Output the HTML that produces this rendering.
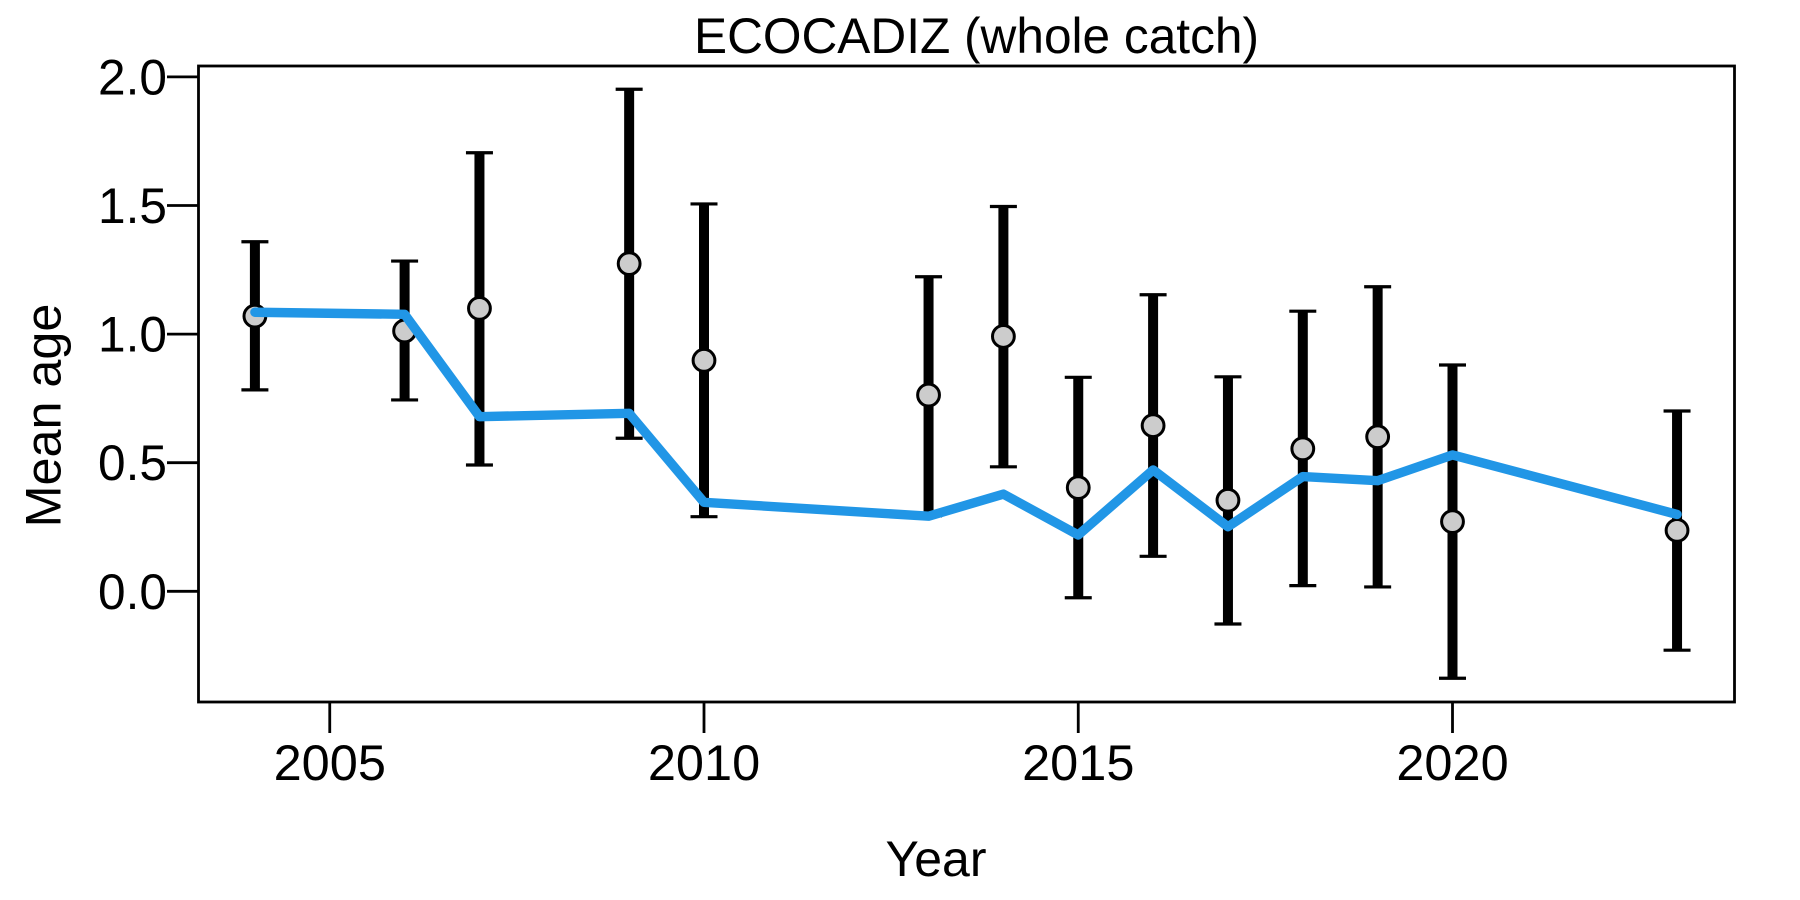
<!DOCTYPE html>
<html lang="en">
<head>
<meta charset="utf-8">
<title>ECOCADIZ (whole catch)</title>
<style>
html,body{margin:0;padding:0;background:#fff;}
svg{display:block;}
text{font-family:"Liberation Sans",Arial,sans-serif;fill:#000;}
</style>
</head>
<body>
<svg id="chart" xmlns="http://www.w3.org/2000/svg" width="1800" height="900" viewBox="0 0 1800 900">
<rect x="0" y="0" width="1800" height="900" fill="#fff"/>
<text x="976.5" y="53" font-size="49.6" text-anchor="middle">ECOCADIZ (whole catch)</text>
<text x="936" y="876" font-size="50" text-anchor="middle">Year</text>
<text x="60.5" y="415.5" font-size="50.3" text-anchor="middle" transform="rotate(-90 60.5 415.5)">Mean age</text>
<g id="error-bars"></g>
<g id="points"></g>
<g id="fit"></g>
<g id="axes"></g>
<rect x="198.5" y="66" width="1536" height="636" fill="none" stroke="#000" stroke-width="2.8"/>
</svg>
<script>
const years = [2004, 2006, 2007, 2009, 2010, 2013, 2014, 2015, 2016, 2017, 2018, 2019, 2020, 2023];
const observed = [1.070, 1.012, 1.100, 1.274, 0.898, 0.763, 0.991, 0.403, 0.644, 0.354, 0.554, 0.601, 0.271, 0.237];
const upper = [1.359, 1.284, 1.705, 1.952, 1.506, 1.223, 1.496, 0.832, 1.153, 0.834, 1.089, 1.184, 0.880, 0.701];
const lower = [0.783, 0.744, 0.491, 0.595, 0.290, 0.293, 0.484, -0.025, 0.136, -0.127, 0.022, 0.017, -0.338, -0.229];
const fitted = [1.085, 1.077, 0.679, 0.692, 0.346, 0.292, 0.378, 0.219, 0.472, 0.251, 0.446, 0.430, 0.530, 0.299];
const xTicks = [2005, 2010, 2015, 2020];
const yTicks = [0, 0.5, 1, 1.5, 2];
const yTickLabels = ['0.0', '0.5', '1.0', '1.5', '2.0'];

const NS = 'http://www.w3.org/2000/svg';
function xScale(year) { return 254.9 + (year - 2004) * 74.85; }
function yScale(value) { return 591.3 - value * 257.2; }
function make(tag, attrs, parent) {
  const el = document.createElementNS(NS, tag);
  for (const k in attrs) el.setAttribute(k, attrs[k]);
  parent.appendChild(el);
  return el;
}

const barsGroup = document.getElementById('error-bars');
const pointsGroup = document.getElementById('points');
const fitGroup = document.getElementById('fit');
const axesGroup = document.getElementById('axes');

years.forEach(function (year, i) {
  const x = xScale(year);
  const yHi = yScale(upper[i]);
  const yLo = yScale(lower[i]);
  const bar = make('line', {x1: x, x2: x, y1: yHi, y2: yLo, stroke: '#000', 'stroke-width': 10}, barsGroup);
  
  
  const capHi = make('line', {x1: x - 13.5, x2: x + 13.5, y1: yHi, y2: yHi, stroke: '#000', 'stroke-width': 3.2}, barsGroup);
  
  
  const capLo = make('line', {x1: x - 13.5, x2: x + 13.5, y1: yLo, y2: yLo, stroke: '#000', 'stroke-width': 3.2}, barsGroup);
  
  
  const pt = make('circle', {cx: x, cy: yScale(observed[i]), r: 10.9, fill: '#cccccc', stroke: '#000', 'stroke-width': 3}, pointsGroup);
  
  
});

const fitPoints = years.map(function (year, i) {
  return xScale(year).toFixed(2) + ',' + yScale(fitted[i]).toFixed(2);
}).join(' ');
const fitLine = make('polyline', {points: fitPoints, fill: 'none', stroke: '#2196e6', 'stroke-width': 9.4, 'stroke-linejoin': 'round', 'stroke-linecap': 'round'}, fitGroup);



xTicks.forEach(function (year) {
  const x = xScale(year);
  const tick = make('line', {x1: x, x2: x, y1: 702, y2: 733, stroke: '#000', 'stroke-width': 2.8}, axesGroup);
  
  
  const label = make('text', {x: x, y: 780, 'font-size': 50.5, 'text-anchor': 'middle'}, axesGroup);
  label.textContent = String(year);
  
  
});

yTicks.forEach(function (value, i) {
  const y = yScale(value);
  const tick = make('line', {x1: 167, x2: 198, y1: y, y2: y, stroke: '#000', 'stroke-width': 2.8}, axesGroup);
  
  
  const label = make('text', {x: 167, y: y + 17.5, 'font-size': 49.6, 'text-anchor': 'end'}, axesGroup);
  label.textContent = yTickLabels[i];
  
  
});
</script>
</body>
</html>
